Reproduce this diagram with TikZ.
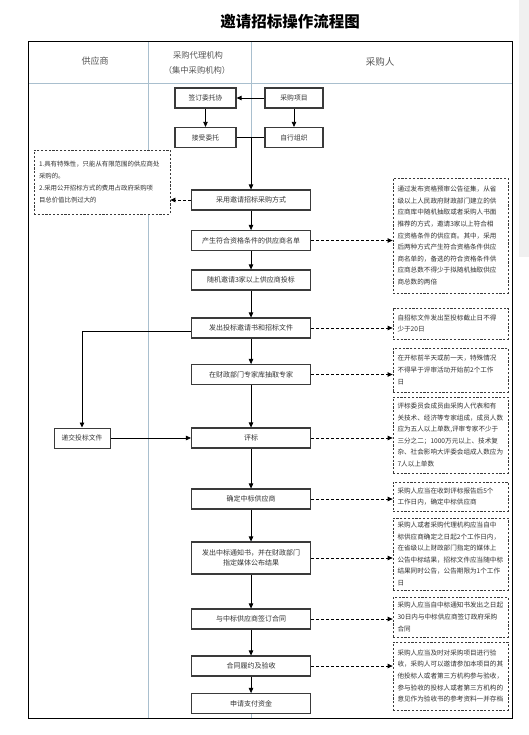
\documentclass[tikz,border=0pt]{standalone}
\usepackage{fontspec}
\setmainfont{Noto Sans CJK SC}
\usetikzlibrary{arrows.meta}
\definecolor{lane}{HTML}{A9BFCE}
\definecolor{ink}{HTML}{333333}
\definecolor{edge}{HTML}{3A3A3A}
\definecolor{hdr}{HTML}{555555}
\begin{document}
\begin{tikzpicture}[x=1pt,y=-1pt,
  mainbox/.style={draw=edge,line width=1.1pt,fill=white,minimum width=119pt,minimum height=20pt,inner sep=2pt,text=ink,font=\fontsize{7}{10.5}\selectfont,align=center},
  topbox/.style={draw=edge,line width=1.2pt,fill=white,minimum height=20pt,inner sep=2pt,text=ink,font=\fontsize{6.8}{9}\selectfont},
  notebox/.style={draw=edge,dashed,dash pattern=on 2.2pt off 1.6pt,line width=0.8pt,fill=white,text width=106pt,minimum width=115pt,inner xsep=4.5pt,inner ysep=3pt,align=left,text=ink,font=\fontsize{6.6}{11.6}\selectfont},
  hdrtext/.style={text=hdr,inner sep=0pt},
  arr/.style={draw=black,line width=0.8pt,-{Triangle[length=5pt,width=4.5pt]}},
  plain/.style={draw=black,line width=0.8pt},
  darr/.style={draw=black,line width=0.8pt,dashed,dash pattern=on 3pt off 2pt,-{Triangle[length=5pt,width=4.5pt]}}]
\useasboundingbox (0,0) rectangle (529,735);
\fill[gray!12] (519,0) rectangle (529,257);
% title
\node[inner sep=0pt,font=\fontsize{15.5}{18}\selectfont\bfseries] (title) at (290,22) {邀请招标操作流程图};
% lanes
\draw[lane,line width=0.8pt] (28,83) -- (512,83);
\draw[lane,line width=0.8pt] (148,42) -- (148,718);
\draw[lane,line width=0.8pt] (251,42) -- (251,718);
\draw[black,line width=1pt] (28,42) rectangle (512,718);
\node[hdrtext,font=\fontsize{9}{11}\selectfont] (h1) at (95,61) {供应商};
\node[hdrtext,font=\fontsize{8.3}{10}\selectfont] (h2a) at (198,55) {采购代理机构};
\node[hdrtext,font=\fontsize{8.3}{10}\selectfont] (h2b) at (197,70) {（集中采购机构）};
\node[hdrtext,font=\fontsize{9.5}{11}\selectfont] (h3) at (380,62) {采购人};
% top boxes
\node[topbox,minimum width=61pt] (qd) at (205.5,98) {签订委托协};
\node[topbox,minimum width=58pt] (cg) at (294,98) {采购项目};
\node[topbox,minimum width=61pt] (js) at (205.5,137.5) {接受委托};
\node[topbox,minimum width=58pt] (zx) at (294,137.5) {自行组织};
\draw[arr] (cg.west) -- (qd.east);
\draw[arr] (qd.south) -- (js.north);
\draw[arr] (cg.south) -- (zx.north);
\draw[plain] (js.east) -- (zx.west);
\coordinate (jn) at (251,137.5);
% main boxes
\node[mainbox] (cy) at (251,200) {采用邀请招标采购方式};
\node[mainbox] (cs) at (251,240.5) {产生符合资格条件的供应商名单};
\node[mainbox] (sj) at (251,280) {随机邀请3家以上供应商投标};
\node[mainbox] (fc) at (251,328) {发出投标邀请书和招标文件};
\node[mainbox] (zj) at (251,374.5) {在财政部门专家库抽取专家};
\node[mainbox] (pb) at (251,438) {评标};
\node[mainbox] (qz) at (251,499) {确定中标供应商};
\node[mainbox,minimum height=32pt] (fz) at (251,558) {发出中标通知书，并在财政部门\\指定媒体公布结果};
\node[mainbox] (ht) at (251,619) {与中标供应商签订合同};
\node[mainbox] (ly) at (251,666) {合同履约及验收};
\node[mainbox] (sq) at (251,703.5) {申请支付资金};
\node[topbox,line width=1pt,minimum width=56pt] (dj) at (82,438) {递交投标文件};
% main arrows
\draw[arr] (jn) -- (cy.north);
\draw[arr] (cy.south) -- (cs.north);
\draw[arr] (cs.south) -- (sj.north);
\draw[arr] (sj.south) -- (fc.north);
\draw[arr] (fc.south) -- (zj.north);
\draw[arr] (zj.south) -- (pb.north);
\draw[arr] (pb.south) -- (qz.north);
\draw[arr] (qz.south) -- (fz.north);
\draw[arr] (fz.south) -- (ht.north);
\draw[arr] (ht.south) -- (ly.north);
\draw[arr] (ly.south) -- (sq.north);
\draw[arr] ([yshift=-3pt]fc.west) -| (dj.north);
\draw[arr] (dj.east) -- (pb.west);
% left note
\node[notebox,text width=126pt,minimum width=136pt,minimum height=64pt,font=\fontsize{6.4}{12}\selectfont] (ln) at (102,182) {1.具有特殊性，只能从有限范围的供应商处\\采购的。\\2.采用公开招标方式的费用占政府采购项\\目总价值比例过大的};
\draw[darr] (cy.west) -- (cy.west -| ln.east);
% right notes
\node[notebox,minimum height=115pt] (n1) at (450.5,235.5) {通过发布资格预审公告征集，从省\\级以上人民政府财政部门建立的供\\应商库中随机抽取或者采购人书面\\推荐的方式，邀请3家以上符合相\\应资格条件的供应商。其中，采用\\后两种方式产生符合资格条件供应\\商名单的，备选的符合资格条件供\\应商总数不得少于拟随机抽取供应\\商总数的两倍};
\node[notebox,minimum height=31pt] (n2) at (450.5,323.5) {自招标文件发出至投标截止日不得\\少于20日};
\node[notebox,minimum height=44pt] (n3) at (450.5,370) {在开标前半天或前一天，特殊情况\\不得早于评审活动开始前2个工作\\日};
\node[notebox,minimum height=76pt] (n4) at (450.5,435) {评标委员会成员由采购人代表和有\\关技术、经济等专家组成，成员人数\\应为五人以上单数,评审专家不少于\\三分之二；1000万元以上、技术复\\杂、社会影响大评委会组成人数应为\\7人以上单数};
\node[notebox,minimum height=29pt] (n5) at (450.5,496.5) {采购人应当在收到评标报告后5个\\工作日内，确定中标供应商};
\node[notebox,minimum height=72pt] (n6) at (450.5,554) {采购人或者采购代理机构应当自中\\标供应商确定之日起2个工作日内，\\在省级以上财政部门指定的媒体上\\公告中标结果，招标文件应当随中标\\结果同时公告，公告期限为1个工作\\日};
\node[notebox,minimum height=40pt] (n7) at (450.5,617) {采购人应当自中标通知书发出之日起\\30日内与中标供应商签订政府采购\\合同};
\node[notebox,minimum height=68pt] (n8) at (450.5,676) {采购人应当及时对采购项目进行验\\收，采购人可以邀请参加本项目的其\\他投标人或者第三方机构参与验收，\\参与验收的投标人或者第三方机构的\\意见作为验收书的参考资料一并存档};
\draw[darr] (cs.east) -- (cs.east -| n1.west);
\draw[darr] (fc.east) -- (fc.east -| n2.west);
\draw[darr] (zj.east) -- (zj.east -| n3.west);
\draw[darr] (pb.east) -- (pb.east -| n4.west);
\draw[darr] (qz.east) -- (qz.east -| n5.west);
\draw[darr] (fz.east) -- (fz.east -| n6.west);
\draw[darr] (ht.east) -- (ht.east -| n7.west);
\draw[darr] (ly.east) -- (ly.east -| n8.west);
\end{tikzpicture}
\end{document}
